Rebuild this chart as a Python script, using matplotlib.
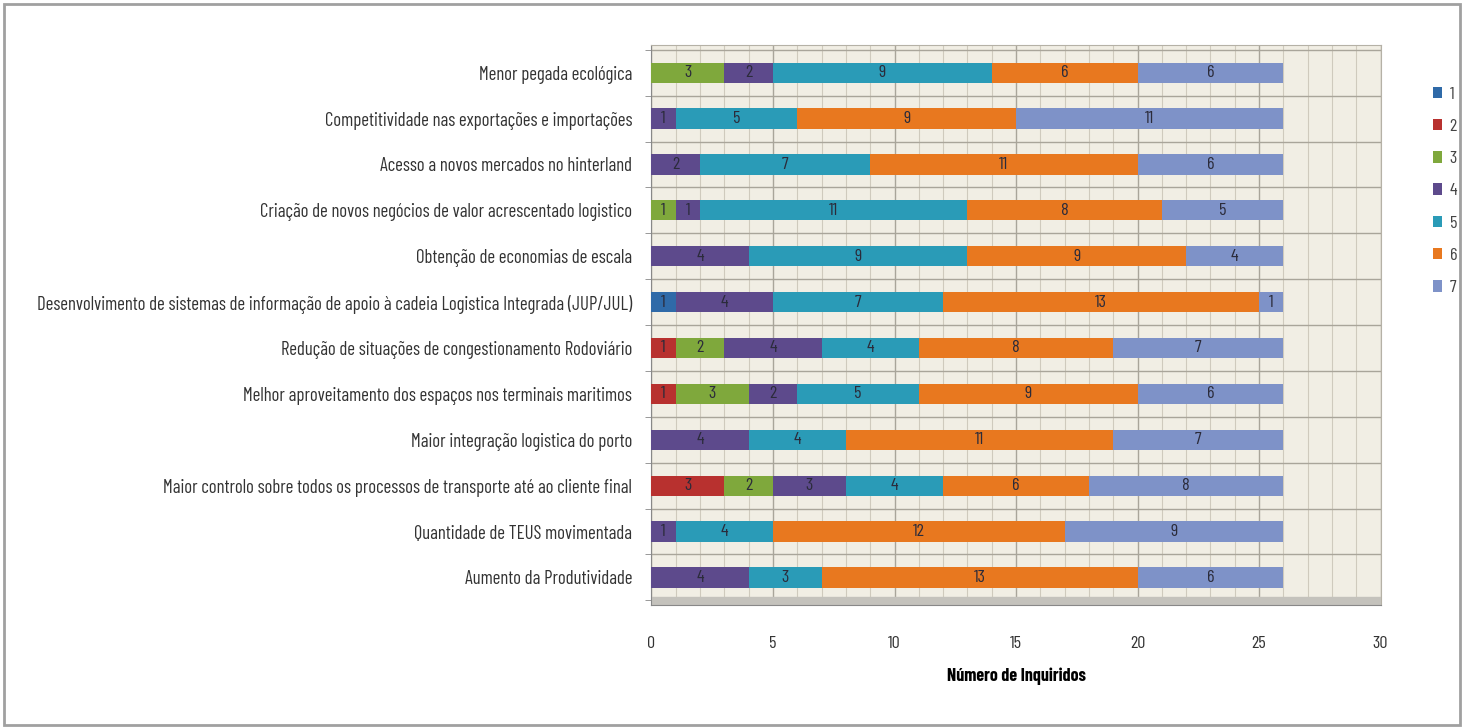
import numpy as np
import matplotlib.pyplot as plt
from matplotlib.patches import Rectangle

plt.rcParams['font.family'] = ['Barlow Condensed', 'DejaVu Sans']

categories = [
    'Aumento da Produtividade',
    'Quantidade de TEUS movimentada',
    'Maior controlo sobre todos os processos de transporte até ao cliente final',
    'Maior integração logistica do porto',
    'Melhor aproveitamento dos espaços nos terminais maritimos',
    'Redução de situações de congestionamento Rodoviário',
    'Desenvolvimento de sistemas de informação de apoio à cadeia Logistica Integrada (JUP/JUL)',
    'Obtenção de economias de escala',
    'Criação de novos negócios de valor acrescentado logistico',
    'Acesso a novos mercados no hinterland',
    'Competitividade nas exportações e importações',
    'Menor pegada ecológica',
]

# answers per score level, same order as categories (bottom to top)
s1 = [0, 0, 0, 0, 0, 0, 1, 0, 0, 0, 0, 0]
s2 = [0, 0, 3, 0, 1, 1, 0, 0, 0, 0, 0, 0]
s3 = [0, 0, 2, 0, 3, 2, 0, 0, 1, 0, 0, 3]
s4 = [4, 1, 3, 4, 2, 4, 4, 4, 1, 2, 1, 2]
s5 = [3, 4, 4, 4, 5, 4, 7, 9, 11, 7, 5, 9]
s6 = [13, 12, 6, 11, 9, 8, 13, 9, 8, 11, 9, 6]
s7 = [6, 9, 8, 7, 6, 7, 1, 4, 5, 6, 11, 6]

series = [s1, s2, s3, s4, s5, s6, s7]
names = ['1', '2', '3', '4', '5', '6', '7']
colors = ['#2f6aa8', '#b8312f', '#7fa83c', '#5d4a8c', '#2a9bb7', '#e8781f', '#7e92c8']

fig = plt.figure(figsize=(14.64, 7.28), dpi=100)
fig.patches.append(Rectangle((0.003, 0.004), 0.994, 0.99, transform=fig.transFigure,
                             fill=False, edgecolor='#a0a0a0', linewidth=2))

ax = fig.add_axes([0.445, 0.169, 0.498, 0.769])
ax.set_facecolor('#f1eee4')

y = np.arange(len(categories))
left = np.zeros(len(categories))
for vals, name, col in zip(series, names, colors):
    vals = np.array(vals)
    bars = ax.barh(y, vals, left=left, height=0.44, color=col, label=name,
                   edgecolor='none', zorder=3)
    for b, v in zip(bars, vals):
        if v > 0:
            ax.text(b.get_x() + b.get_width() / 2, b.get_y() + b.get_height() / 2, str(v),
                    ha='center', va='center', fontsize=13, color='#2b2b3a', zorder=4)
    left += vals

ax.set_xlim(0, 30)
ax.set_ylim(-0.6, 11.6)
ax.set_xticks(np.arange(0, 31, 5))
ax.set_xticks(np.arange(0, 31, 1), minor=True)
ax.set_yticks(y)
ax.set_yticklabels(categories, fontsize=13.5, color='#333333')
ax.set_yticks(np.arange(-0.5, 12, 1), minor=True)
ax.grid(which='minor', axis='x', color='#cfcabd', linewidth=0.8, zorder=1)
ax.grid(which='major', axis='x', color='#a9a59a', linewidth=1.0, zorder=1)
ax.grid(which='minor', axis='y', color='#a9a59a', linewidth=1.0, zorder=1)
ax.tick_params(axis='x', which='both', length=0, labelsize=13, labelcolor='#333333', pad=22)
ax.tick_params(axis='y', which='major', length=0, pad=14)
ax.tick_params(axis='y', which='minor', length=4, color='#888888')

for side in ['top', 'right']:
    ax.spines[side].set_color('#b5b1a6')
ax.spines['left'].set_color('#888888')
ax.spines['bottom'].set_color('#888888')

# floor strip of the 3-D look
ax.axhspan(-0.6, -0.42, color='#c4c2bc', zorder=2)

ax.set_xlabel('Número de Inquiridos', fontsize=13, fontweight='bold', labelpad=12)

ax.legend(loc='upper left', bbox_to_anchor=(1.05, 0.955), frameon=False, fontsize=13,
          handlelength=0.5, handleheight=0.6, labelspacing=0.95, handletextpad=0.4,
          labelcolor='#444444')

fig.savefig('out.png', dpi=100)
